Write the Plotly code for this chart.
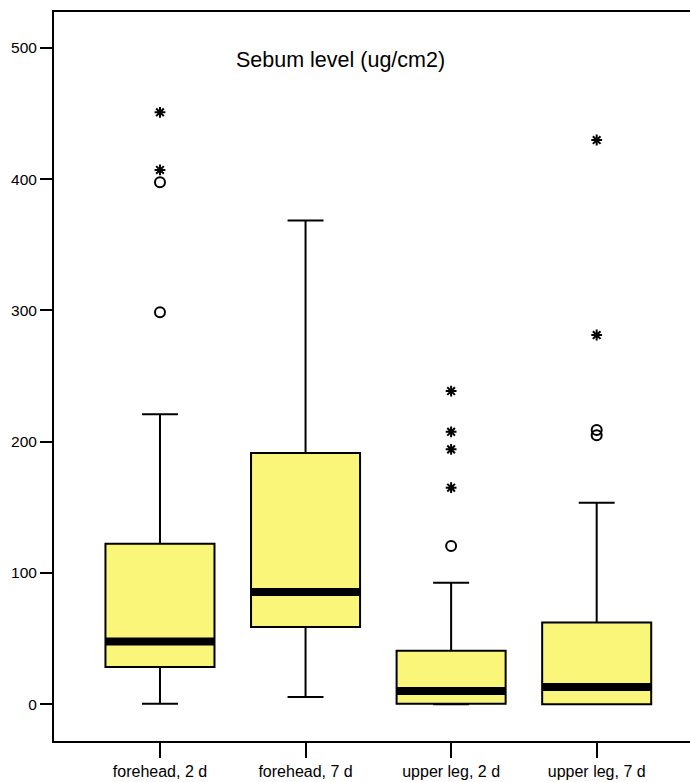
import plotly.graph_objects as go

# ---- data ----
categories = ["forehead, 2 d", "forehead, 7 d", "upper leg, 2 d", "upper leg, 7 d"]
q1 = [28.4, 58.9, 0.5, 0.0]
median = [47.8, 85.5, 10.1, 13.2]
q3 = [122.3, 191.4, 40.8, 62.4]
lower_whisker = [0.5, 5.6, 0.0, 0.0]
upper_whisker = [220.9, 368.6, 92.6, 153.5]

# outliers (circles) and extremes (stars), by category index
outlier_cat = [0, 0, 2, 3, 3]
outlier_val = [397.6, 298.6, 120.6, 209.0, 205.0]
extreme_cat = [0, 0, 2, 2, 2, 2, 3, 3]
extreme_val = [450.9, 407.0, 238.6, 207.6, 194.2, 165.0, 429.8, 281.3]

title_text = "Sebum level (ug/cm2)"
y_ticks = [0, 100, 200, 300, 400, 500]

# ---- styling ----
FONT = "Liberation Sans, Arial, sans-serif"
BOX_W = 0.749
FILL = "#FAF67A"

xs = list(range(len(categories)))

fig = go.Figure()
fig.add_trace(go.Box(
    x=xs, q1=q1, median=median, q3=q3,
    lowerfence=lower_whisker, upperfence=upper_whisker,
    width=BOX_W, whiskerwidth=0.33,
    fillcolor=FILL, line=dict(color="black", width=2),
    boxpoints=False, showlegend=False, hoverinfo="skip",
))

# thick median bars
mx, my = [], []
for i, m in zip(xs, median):
    mx += [i - BOX_W / 2, i + BOX_W / 2, None]
    my += [m, m, None]
fig.add_trace(go.Scatter(x=mx, y=my, mode="lines",
                         line=dict(color="black", width=8),
                         showlegend=False, hoverinfo="skip"))

# outliers (open circles)
fig.add_trace(go.Scatter(x=outlier_cat, y=outlier_val, mode="markers",
                         marker=dict(symbol="circle-open", size=10,
                                     color="black", line=dict(width=2, color="black")),
                         showlegend=False, hoverinfo="skip"))

# extremes (stars)
fig.add_trace(go.Scatter(x=extreme_cat, y=extreme_val, mode="markers",
                         marker=dict(symbol="asterisk-open", size=9,
                                     color="black", line=dict(width=2, color="black")),
                         showlegend=False, hoverinfo="skip"))

fig.add_annotation(text=title_text, xref="paper", yref="paper",
                   x=0.4497, y=0.934, xanchor="center", yanchor="middle",
                   showarrow=False, font=dict(family=FONT, size=21.5, color="black"))

fig.update_layout(
    width=690, height=782,
    margin=dict(l=54, r=0, t=12, b=41),
    paper_bgcolor="white", plot_bgcolor="white",
    font=dict(family=FONT, color="black"),
    xaxis=dict(range=[-0.728, 3.641], tickvals=xs, ticktext=categories,
               ticks="outside", ticklen=15, tickwidth=2, tickcolor="black",
               showline=True, linewidth=2, linecolor="black", mirror=True,
               showgrid=False, zeroline=False,
               tickfont=dict(family=FONT, size=16, color="black")),
    yaxis=dict(range=[-27.9, 527.3], tickvals=y_ticks,
               ticks="outside", ticklen=12, tickwidth=2, tickcolor="black",
               showline=True, linewidth=2, linecolor="black",
               showgrid=False, zeroline=False,
               tickfont=dict(family=FONT, size=15.5, color="black")),
)

fig.write_html("out.html")
